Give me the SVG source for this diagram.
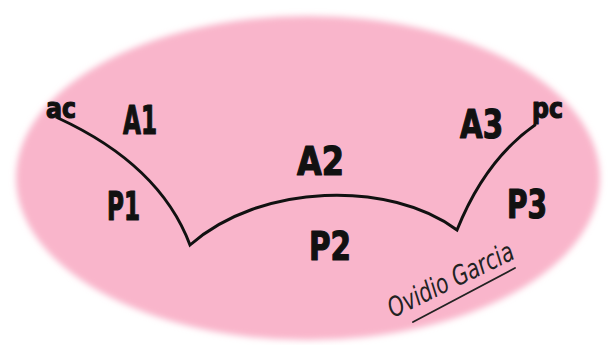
<svg xmlns="http://www.w3.org/2000/svg" width="608" height="345" viewBox="0 0 608 345">
  <defs>
    <filter id="soft" x="-10%" y="-10%" width="120%" height="120%">
      <feGaussianBlur stdDeviation="3"/>
    </filter>
  </defs>
  <style>
    .lbl { font-family: "DejaVu Sans", "Liberation Sans", sans-serif; font-weight: bold; font-stretch: condensed; fill: #111; stroke: #111; stroke-width: 1.2; stroke-linejoin: round; }
    .big { font-size: 39px; }
    .small { font-size: 28px; }
    .curve { fill: none; stroke: #111; stroke-width: 3; stroke-linecap: round; stroke-linejoin: miter; }
    .sig { font-family: "DejaVu Sans", "Liberation Sans", sans-serif; font-style: italic; font-stretch: condensed; font-size: 27px; fill: #222; }
  </style>
  <rect width="608" height="345" fill="#ffffff"/>
  <g id="background">
    <ellipse cx="308" cy="178" rx="292" ry="162" fill="#F9B5CB" filter="url(#soft)"/>
  </g>
  <g id="connectors">
    <path class="curve" d="M58,118 Q160,165 190,245 C260,183 390,180 457,230 Q485,160 535,125"/>
  </g>
  <g id="ac"><text class="lbl small" x="46" y="118" textLength="30" lengthAdjust="spacingAndGlyphs">ac</text></g>
  <g id="A1"><text class="lbl big" x="123" y="134" textLength="34" lengthAdjust="spacingAndGlyphs">A1</text></g>
  <g id="P1"><text class="lbl big" x="107" y="220" textLength="33" lengthAdjust="spacingAndGlyphs">P1</text></g>
  <g id="A2"><text class="lbl big" x="297" y="175" textLength="47" lengthAdjust="spacingAndGlyphs">A2</text></g>
  <g id="P2"><text class="lbl big" x="309" y="260" textLength="42" lengthAdjust="spacingAndGlyphs">P2</text></g>
  <g id="A3"><text class="lbl big" x="460" y="138" textLength="43" lengthAdjust="spacingAndGlyphs">A3</text></g>
  <g id="P3"><text class="lbl big" x="507" y="218" textLength="40" lengthAdjust="spacingAndGlyphs">P3</text></g>
  <g id="pc"><text class="lbl small" x="532" y="118" textLength="31" lengthAdjust="spacingAndGlyphs">pc</text></g>
  <g id="signature">
    <text class="sig" transform="translate(393,318) rotate(-26)" textLength="137" lengthAdjust="spacingAndGlyphs">Ovidio Garcia</text>
    <path d="M413,322 L515,268" stroke="#222" stroke-width="1.8" stroke-linecap="round" fill="none"/>
  </g>
</svg>
